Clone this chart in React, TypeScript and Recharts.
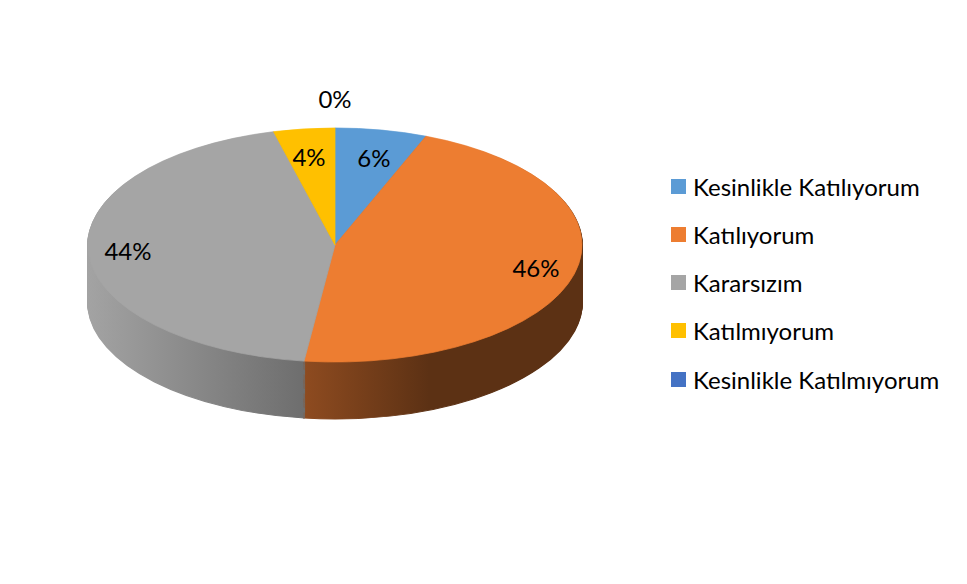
import { PieChart, Pie, Cell, Legend } from "recharts"

const categories = [
  "Kesinlikle Katılıyorum",
  "Katılıyorum",
  "Kararsızım",
  "Katılmıyorum",
  "Kesinlikle Katılmıyorum",
]
const shares = [6, 46, 44, 4, 0]
const topColors = ["#5B9BD5", "#ED7D31", "#A5A5A5", "#FFC000", "#4472C4"]
const sideLight = ["#3E6F9C", "#8E4B20", "#A3A3A3", "#B38600", "#2F5289"]
const sideDark = ["#2E5275", "#5C3114", "#666666", "#7F6000", "#22395F"]

const data = categories.map((name, i) => ({ name, value: shares[i] }))

// the pie is drawn as a circle and squashed vertically to look tilted
const SQUASH = 0.4737
const CX = 335
const CY = 245 / SQUASH
const R = 247
const DEPTH = 57 / SQUASH
const LAYERS = 60
const FONT = "Lato, 'Open Sans', sans-serif"

const layers = Array.from({ length: LAYERS }, (_, i) => (DEPTH * (LAYERS - i)) / LAYERS)

const RAD = Math.PI / 180

function renderLabel(props: any) {
  const { cx, cy, midAngle, outerRadius, value } = props
  const rx = value === 0 ? outerRadius * 1.25 : outerRadius * 0.84
  const ry = value === 0 ? outerRadius * 1.25 : outerRadius * 0.76
  const x = cx + rx * Math.cos(-midAngle * RAD)
  const y = cy + ry * Math.sin(-midAngle * RAD)
  return (
    <g transform={`translate(${x},${y}) scale(1,${1 / SQUASH})`}>
      <text x={0} y={0} textAnchor="middle" dominantBaseline="central" fontSize={24} fontFamily={FONT} fill="#000">
        {value}%
      </text>
    </g>
  )
}

function LegendList() {
  return (
    <ul style={{ listStyle: "none", margin: 0, padding: 0, fontFamily: FONT, fontSize: 24, color: "#000" }}>
      {categories.map((c, i) => (
        <li key={c} style={{ display: "flex", alignItems: "center", height: 48.25, whiteSpace: "nowrap" }}>
          <span style={{ width: 15, height: 15, background: topColors[i], marginRight: 7, flex: "none" }} />
          <span>{c}</span>
        </li>
      ))}
    </ul>
  )
}

export default function App() {
  return (
    <div className="pie3d" style={{ width: 967, height: 584, overflow: "hidden", position: "relative", background: "#fff" }}>
      <style>{`
        body { margin: 0; }
        .pie3d .recharts-wrapper > svg { transform: scaleY(${SQUASH}); transform-origin: 0 0; }
      `}</style>
      <PieChart width={967} height={584 / SQUASH} margin={{ top: 0, right: 0, bottom: 0, left: 0 }}>
        <defs>
          {topColors.map((_, i) => (
            <linearGradient key={i} id={`side-${i}`} x1="0" y1="0" x2="1" y2="0">
              <stop offset="0%" stopColor={sideLight[i]} />
              <stop offset={i === 1 ? "45%" : "100%"} stopColor={sideDark[i]} />
              <stop offset="100%" stopColor={sideDark[i]} />
            </linearGradient>
          ))}
        </defs>
        {layers.map((off, li) => (
          <Pie
            key={`layer-${li}`}
            data={data}
            dataKey="value"
            nameKey="name"
            cx={CX}
            cy={CY + off}
            outerRadius={R}
            startAngle={90}
            endAngle={-270}
            stroke="none"
            legendType="none"
            label={false}
            labelLine={false}
            isAnimationActive={false}
          >
            {data.map((d, i) => (
              <Cell key={d.name} fill={`url(#side-${i})`} stroke={`url(#side-${i})`} strokeWidth={2} />
            ))}
          </Pie>
        ))}
        <Pie
          data={data}
          dataKey="value"
          nameKey="name"
          cx={CX}
          cy={CY}
          outerRadius={R}
          startAngle={90}
          endAngle={-270}
          legendType="square"
          label={renderLabel}
          labelLine={false}
          isAnimationActive={false}
        >
          {data.map((d, i) => (
            <Cell key={d.name} fill={topColors[i]} stroke={topColors[i]} strokeWidth={1} />
          ))}
        </Pie>
        <Legend
          layout="vertical"
          align="right"
          verticalAlign="top"
          content={LegendList}
          wrapperStyle={{ left: 671, top: 162, width: 296 }}
        />
      </PieChart>
    </div>
  )
}
